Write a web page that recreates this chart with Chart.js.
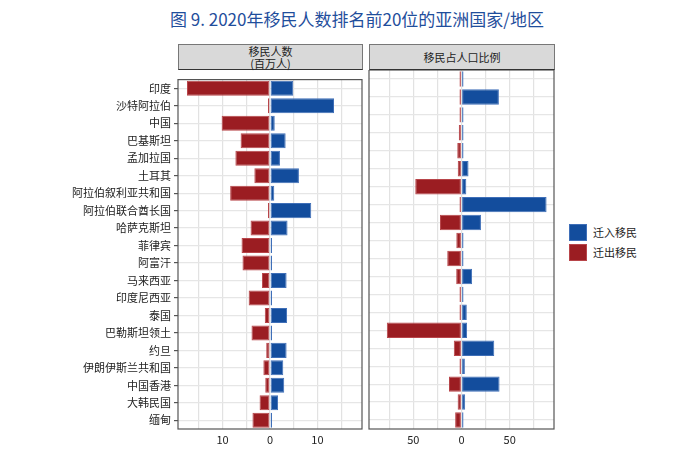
<!DOCTYPE html>
<html>
<head>
<meta charset="utf-8">
<script src="https://cdn.jsdelivr.net/npm/chart.js@4.4.1/dist/chart.umd.min.js"></script>
<style>
  body { margin: 0; background: #fff; font-family: "Noto Sans CJK SC", "Noto Sans", sans-serif; }
  #wrap { position: relative; width: 690px; height: 451px; }
  .title { position: absolute; left: 0; top: 6px; width: 714px; text-align: center; font-size: 17px; color: #1f4e9c; }
  .strip { position: absolute; top: 44px; height: 26px; background: #d9d9d9; border: 1px solid #777; border-bottom: 1px solid #333;
           box-sizing: border-box; font-size: 11px; line-height: 12px; color: #222; display: flex; flex-direction: column;
           justify-content: center; align-items: center; }
  canvas { position: absolute; }
  .legend { position: absolute; left: 569px; top: 222px; font-size: 11px; color: #222; }
  .legend div { display: flex; align-items: center; height: 20px; }
  .legend span.sw { display: inline-block; width: 18px; height: 17px; margin-right: 6px; box-sizing: border-box; }
</style>
</head>
<body>
<div id="wrap">
  <div class="title">图 9. 2020年移民人数排名前20位的亚洲国家/地区</div>
  <div class="strip" style="left:178px;width:185px;"><div>移民人数</div><div>(百万人)</div></div>
  <div class="strip" style="left:369px;width:186px;"><div>移民占人口比例</div></div>
  <canvas id="chart-count" width="366" height="381" style="left:0;top:70px;"></canvas>
  <canvas id="chart-share" width="192" height="381" style="left:366px;top:70px;"></canvas>
  <div class="legend">
    <div><span class="sw" style="background:#134d9d;border:1px solid #3f6fb8;"></span>迁入移民</div>
    <div><span class="sw" style="background:#9b1d22;border:1px solid #b8454a;"></span>迁出移民</div>
  </div>
</div>
<script>
const categories = ['印度', '沙特阿拉伯', '中国', '巴基斯坦', '孟加拉国', '土耳其', '阿拉伯叙利亚共和国',
  '阿拉伯联合酋长国', '哈萨克斯坦', '菲律宾', '阿富汗', '马来西亚', '印度尼西亚', '泰国', '巴勒斯坦领土',
  '约旦', '伊朗伊斯兰共和国', '中国香港', '大韩民国', '缅甸'];

// millions of people
const emigCount = [-17.5, -0.3, -10.2, -6.2, -7.3, -3.3, -8.4, -0.2, -4.1, -6.0,
  -5.8, -1.7, -4.5, -1.1, -3.9, -0.8, -1.4, -1.0, -2.2, -3.7];
const immigCount = [4.9, 13.5, 1.0, 3.3, 2.1, 6.1, 0.9, 8.7, 3.7, 0.2,
  0.1, 3.5, 0.4, 3.6, 0.3, 3.5, 2.8, 3.0, 1.7, 0.1];

// percent of population
const emigShare = [-1.3, -0.6, -0.7, -2.8, -4.4, -3.9, -48.0, -1.8, -22.3, -5.4,
  -14.8, -5.5, -1.7, -1.6, -77.5, -8.0, -1.6, -13.0, -4.0, -6.6];
const immigShare = [0.4, 38.8, 0.1, 1.6, 1.3, 7.3, 5.0, 88.3, 20.2, 0.2,
  0.4, 11.0, 0.1, 5.5, 5.8, 34.0, 3.5, 39.5, 3.8, 0.1];

const countTicks = [-10, 0, 10];
const shareTicks = [-50, 0, 50];

const BLUE = '#134d9d', BLUE_EDGE = '#3f6fb8';
const RED = '#9b1d22', RED_EDGE = '#b8454a';
const FONT = '"Noto Sans CJK SC", "Noto Sans", sans-serif';

// full box round the panel, like a facet border
const panelBox = {
  id: 'panelBox',
  afterDraw(chart) {
    const { ctx, chartArea: a } = chart;
    ctx.save();
    ctx.strokeStyle = '#555';
    ctx.lineWidth = 1.2;
    ctx.strokeRect(a.left, a.top, a.right - a.left, a.bottom - a.top);
    ctx.restore();
  }
};

function makePanel(canvasId, emig, immig, limit, step, labelled, showLabels, yWidth) {
  return new Chart(document.getElementById(canvasId), {
    type: 'bar',
    data: {
      labels: categories,
      datasets: [
        { label: '迁出移民', data: emig, backgroundColor: RED, borderColor: RED_EDGE, borderWidth: 1, borderSkipped: false, minBarLength: 2 },
        { label: '迁入移民', data: immig, backgroundColor: BLUE, borderColor: BLUE_EDGE, borderWidth: 1, borderSkipped: false, minBarLength: 2 },
      ],
    },
    options: {
      indexAxis: 'y',
      responsive: false,
      animation: false,
      events: [],
      datasets: { bar: { categoryPercentage: 1, barPercentage: 0.86 } },
      layout: { padding: { top: 0, right: 4, bottom: 0, left: 0 } },
      plugins: { legend: { display: false }, tooltip: { enabled: false } },
      scales: {
        x: {
          stacked: true,
          min: -limit,
          max: limit,
          afterFit: s => { s.height = 22; },
          border: { display: false },
          grid: { color: '#e2e2e2', lineWidth: 1.2, drawTicks: false },
          ticks: {
            stepSize: step,
            includeBounds: false,
            autoSkip: false,
            maxRotation: 0,
            padding: 4,
            color: '#222',
            font: { family: FONT, size: 11 },
            callback: v => labelled.includes(v) ? String(Math.abs(v)) : '',
          },
        },
        y: {
          stacked: true,
          afterFit: s => { s.width = yWidth; },
          border: { display: false },
          grid: { offset: false, color: '#e6e6e6', lineWidth: 1.2, drawTicks: showLabels, tickLength: 4, tickColor: '#555' },
          ticks: { display: showLabels, padding: 3, color: '#222', font: { family: FONT, size: 11 } },
        },
      },
    },
    plugins: [panelBox],
  });
}

makePanel('chart-count', emigCount, immigCount, 19.4, 5, countTicks, true, 178);
makePanel('chart-share', emigShare, immigShare, 96, 25, shareTicks, false, 3);
</script>
</body>
</html>
